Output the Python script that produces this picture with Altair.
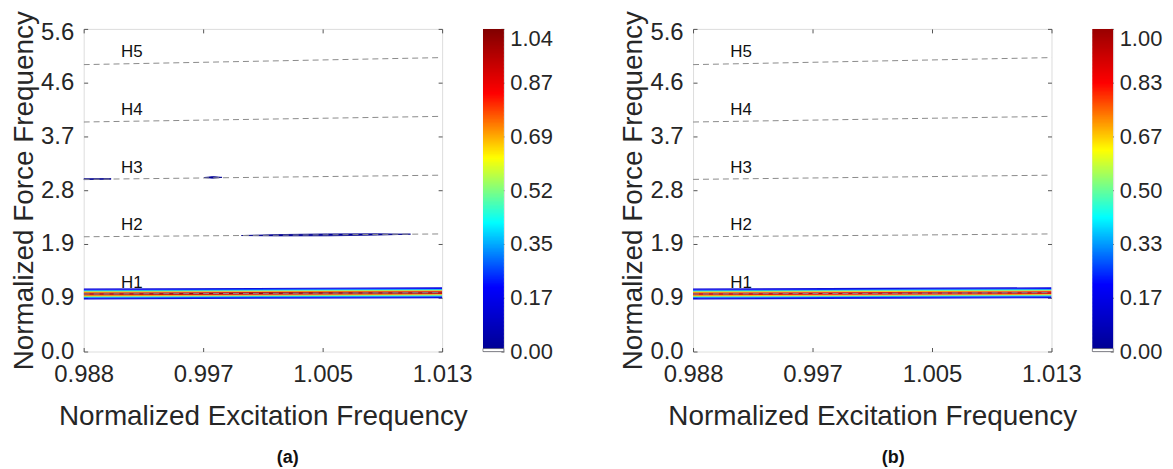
import json
import altair as alt
import pandas as pd

FONT = "Liberation Sans"
INK = "#262626"
FRAME = "#555555"

# ---------------- axes ----------------
x_domain = [0.988, 1.013]
y_domain = [0.0, 5.6]
x_tick_labels = ["0.988", "0.997", "1.005", "1.013"]
y_tick_labels = ["0.0", "0.9", "1.9", "2.8", "3.7", "4.6", "5.6"]

# ---------------- harmonic guide lines ----------------
harmonics = ["H1", "H2", "H3", "H4", "H5"]
h_x = [0.988, 1.013]
h_y_left = [0.998, 1.992, 2.988, 3.984, 4.980]
h_y_right = [1.021, 2.041, 3.061, 4.082, 5.102]
label_x = 0.9906
label_y = [1.0, 2.0, 3.0, 4.0, 5.0]

# ---------------- H1 contour band ----------------
band_offsets = [0.085, 0.070, 0.056, 0.042, 0.028, 0.014, 0.0]
band_levels_a = [0.12, 0.19, 0.35, 0.52, 0.69, 0.87, 1.02]
band_levels_b = [0.12, 0.19, 0.33, 0.50, 0.67, 0.83, 0.98]
band_glow = 0.095

# ---------------- small islands, panel (a) only ----------------
h2_x = [0.9990, 1.0015, 1.0050, 1.0085, 1.0108]
h2_mid = [2.013, 2.018, 2.025, 2.032, 2.037]
h2_half = [0.000, 0.011, 0.017, 0.011, 0.000]
h3_x = [0.9964, 0.9970, 0.99765]
h3_mid = [3.020, 3.022, 3.023]
h3_half = [0.000, 0.014, 0.000]
h3_edge_x = [0.988, 0.9899]
h3_edge_mid = [2.992, 2.996]
h3_edge_half = [0.008, 0.006]
island_level = 0.04

# ---------------- colour bars ----------------
cmax_a = 1.04
cmax_b = 1.00
jet_pos = [0.0, 0.111, 0.365, 0.619, 0.873, 1.0]
jet_colors = ["#00008f", "#0000ff", "#00ffff", "#ffff00", "#ff0000", "#800000"]
white_frac = 0.009

PLOT_W, PLOT_H = 360, 324
CB_W = 21


def jet_scale(cmax):
    return alt.Scale(domain=[p * cmax for p in jet_pos], range=jet_colors,
                     interpolate="rgb", clamp=True)


def idx_expr(labels):
    n = len(labels) - 1
    return f"{json.dumps(labels)}[round(datum.index*{n})]"


x_vals = [x_domain[0] + i * (x_domain[1] - x_domain[0]) / 3 for i in range(4)]
y_vals = [y_domain[0] + i * (y_domain[1] - y_domain[0]) / 6 for i in range(7)]


def XS():
    return alt.Scale(domain=x_domain, nice=False, zero=False)


def YS():
    return alt.Scale(domain=y_domain, nice=False, zero=False)


main_x_axis = alt.Axis(values=x_vals, labelExpr=idx_expr(x_tick_labels), orient="bottom",
                       title="Normalized Excitation Frequency", offset=-4, tickSize=4,
                       domain=False, grid=False, labelPadding=11, titlePadding=16,
                       labelFlush=False, labelOverlap=False,
                       labelFontSize=24, titleFontSize=28, labelFont=FONT, titleFont=FONT,
                       labelColor=INK, titleColor=INK, tickColor=FRAME,
                       titleFontWeight="normal")
main_y_axis = alt.Axis(values=y_vals, labelExpr=idx_expr(y_tick_labels), orient="left",
                       title="Normalized Force Frequency", offset=-4, tickSize=4,
                       domain=False, grid=False, labelPadding=10, titlePadding=2,
                       labelFlush=False, labelOverlap=False,
                       labelFontSize=24, titleFontSize=28, labelFont=FONT, titleFont=FONT,
                       labelColor=INK, titleColor=INK, tickColor=FRAME,
                       titleFontWeight="normal",
                       labelOffset={"condition": {"test": "datum.value > 5.5", "value": 4},
                                    "value": 0})
top_axis = alt.Axis(values=x_vals, orient="top", title="", labels=False, offset=-4,
                    tickSize=4, domain=False, grid=False, tickColor=FRAME)
right_axis = alt.Axis(values=y_vals, orient="right", title="", labels=False, offset=-4,
                      tickSize=4, domain=False, grid=False, tickColor=FRAME)


def guide_frame():
    rows = []
    for h, yl, yr in zip(harmonics, h_y_left, h_y_right):
        rows.append({"h": h, "x": h_x[0], "y": yl})
        rows.append({"h": h, "x": h_x[1], "y": yr})
    return pd.DataFrame(rows)


def band_frames(levels):
    lines = []
    for i, (lev, off) in enumerate(zip(levels, band_offsets)):
        signs = [1, -1] if off > 0 else [0]
        for s in signs:
            lid = f"{i}_{s}"
            lines.append({"id": lid, "lev": lev, "x": h_x[0], "y": h_y_left[0] + s * off, "o": i})
            lines.append({"id": lid, "lev": lev, "x": h_x[1], "y": h_y_right[0] + s * off, "o": i})
    glow = pd.DataFrame({"x": h_x,
                         "y": [h_y_left[0] + band_glow, h_y_right[0] + band_glow],
                         "y2": [h_y_left[0] - band_glow, h_y_right[0] - band_glow]})
    return pd.DataFrame(lines), glow


def island_frame():
    rows = []
    for name, xs_, mids, halfs in [("h2", h2_x, h2_mid, h2_half),
                                   ("h3", h3_x, h3_mid, h3_half),
                                   ("h3e", h3_edge_x, h3_edge_mid, h3_edge_half)]:
        for xv, m, hw in zip(xs_, mids, halfs):
            rows.append({"g": name, "x": xv, "y": m + hw, "y2": m - hw, "lev": island_level})
    return pd.DataFrame(rows)


def panel(levels, cmax, caption, islands, dx):
    guides = guide_frame()
    lines, glow = band_frames(levels)
    layers = []

    layers.append(alt.Chart(glow).mark_area(color="#5a5aff", opacity=0.3, clip=True).encode(
        x=alt.X("x:Q", scale=XS(), axis=None),
        y=alt.Y("y:Q", scale=YS(), axis=None),
        y2="y2:Q"))

    layers.append(alt.Chart(lines).mark_line(strokeWidth=1.1, opacity=0.9, clip=True).encode(
        x=alt.X("x:Q", scale=XS(), axis=None),
        y=alt.Y("y:Q", scale=YS(), axis=None),
        detail="id:N",
        order="o:Q",
        color=alt.Color("lev:Q", scale=jet_scale(cmax), legend=None)))

    if islands:
        isl = island_frame()
        layers.append(alt.Chart(isl).mark_area(clip=True, stroke="#00008f", strokeWidth=0.8).encode(
            x=alt.X("x:Q", scale=XS(), axis=None),
            y=alt.Y("y:Q", scale=YS(), axis=None),
            y2="y2:Q",
            detail="g:N",
            color=alt.Color("lev:Q", scale=jet_scale(cmax), legend=None)))

    layers.append(alt.Chart(guides).mark_line(color="#8a8a8a", strokeWidth=1,
                                              strokeDash=[6, 4], clip=True).encode(
        x=alt.X("x:Q", scale=XS(), axis=main_x_axis),
        y=alt.Y("y:Q", scale=YS(), axis=main_y_axis),
        detail="h:N"))

    labels = pd.DataFrame({"h": harmonics, "x": [label_x] * 5, "y": label_y})
    layers.append(alt.Chart(labels).mark_text(align="left", baseline="bottom", dy=-2,
                                              font=FONT, fontSize=17, color="#111111").encode(
        x=alt.X("x:Q", scale=XS(), axis=None),
        y=alt.Y("y:Q", scale=YS(), axis=None),
        text="h:N"))

    layers.append(alt.Chart(guides).mark_line(opacity=0).encode(
        x=alt.X("x:Q", scale=XS(), axis=top_axis),
        y=alt.Y("y:Q", scale=YS(), axis=right_axis),
        detail="h:N"))

    return alt.layer(*layers).resolve_axis(x="independent", y="independent").properties(
        width=PLOT_W, height=PLOT_H,
        title=alt.TitleParams(caption, orient="bottom", anchor="middle", frame="group",
                              fontSize=18, fontWeight="bold", font=FONT, color="#111111",
                              offset=19, dx=dx))


def colorbar(cmax):
    step = cmax / 240
    ticks = [cmax * i / 6 for i in range(7)]

    def cb_axis():
        return alt.Axis(values=ticks, format=".2f", orient="right", title="", offset=-3,
                        tickSize=3, domain=False, grid=False, labelPadding=6,
                        labelFlush=False, labelOverlap=False,
                        labelFontSize=22, labelFont=FONT, labelColor=INK, tickColor=FRAME,
                        labelBaseline={"condition": {"test": f"datum.value > {cmax - 1e-6}",
                                                     "value": "top"},
                                       "value": "middle"})

    def ys():
        return alt.Scale(domain=[0, cmax], nice=False, zero=False)

    def xs():
        return alt.Scale(domain=[0, 1], nice=False)

    bins = alt.Chart(alt.sequence(0, cmax, step, as_="v")).transform_calculate(
        v2=f"datum.v + {step * 2}", m=f"datum.v + {step / 2}"
    ).mark_rect(clip=True).encode(
        x=alt.XDatum(0, scale=xs(), axis=None),
        x2=alt.X2Datum(1),
        y=alt.Y("v:Q", scale=ys(), axis=cb_axis()),
        y2="v2:Q",
        color=alt.Color("m:Q", scale=jet_scale(cmax), legend=None))
    white = alt.Chart(pd.DataFrame({"lo": [0.0], "hi": [white_frac * cmax]})).mark_rect(
        color="white", stroke=FRAME, strokeWidth=0.6).encode(
        x=alt.XDatum(0, scale=xs(), axis=None),
        x2=alt.X2Datum(1),
        y=alt.Y("lo:Q", scale=ys(), axis=cb_axis()),
        y2="hi:Q")
    return alt.layer(bins, white).properties(width=CB_W, height=PLOT_H)


spacer = alt.Chart(pd.DataFrame({"v": [0]})).mark_point(opacity=0).encode(
    x=alt.X("v:Q", axis=None), y=alt.Y("v:Q", axis=None)
).properties(width=108, height=PLOT_H, view=alt.ViewBackground(stroke="transparent"))

chart = alt.hconcat(
    panel(band_levels_a, cmax_a, "(a)", True, 25),
    colorbar(cmax_a),
    spacer,
    panel(band_levels_b, cmax_b, "(b)", False, 21),
    colorbar(cmax_b),
    spacing=41, bounds="flush",
).properties(
    padding={"left": 2, "top": 0, "right": 2, "bottom": 0}
).configure_view(stroke=FRAME, strokeWidth=1).configure(font=FONT)

chart.save("out.html", embed_options={"renderer": "svg", "actions": False})
